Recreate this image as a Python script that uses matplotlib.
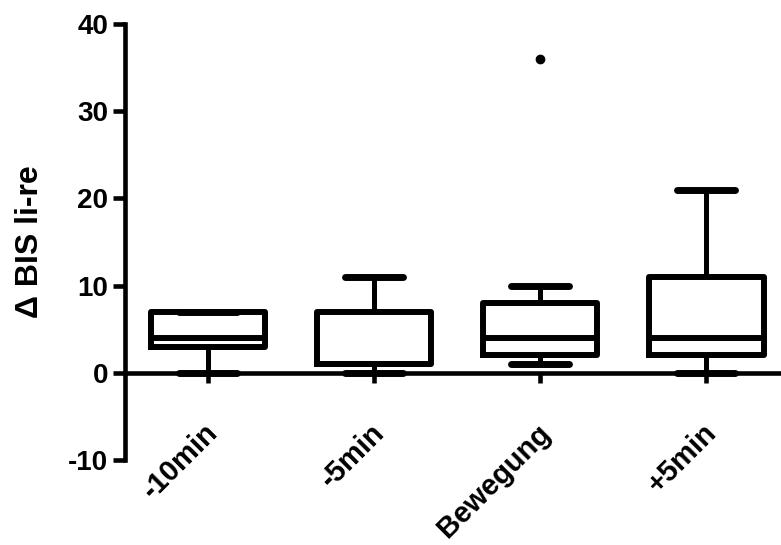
import numpy as np
import matplotlib.pyplot as plt
import matplotlib.transforms as mtransforms

plt.rcParams['font.family'] = ['Liberation Sans', 'DejaVu Sans']
plt.rcParams['font.weight'] = 'bold'
plt.rcParams['axes.unicode_minus'] = False

# data
categories = ['-10min', '-5min', 'Bewegung', '+5min']
whislo = [0, 0, 1, 0]
q1 = [3, 1, 2, 2]
med = [4, 1, 4, 4]
q3 = [7, 7, 8, 11]
whishi = [7, 11, 10, 21]
fliers = [[], [], [36], []]

stats = []
for i in range(len(categories)):
    stats.append(dict(label=categories[i], whislo=whislo[i], q1=q1[i], med=med[i],
                      q3=q3[i], whishi=whishi[i], fliers=fliers[i]))

fig = plt.figure(figsize=(7.81, 5.45), dpi=100)
ax = fig.add_axes([0.16, 0.156, 0.84, 0.80])

lw = 4.3
pos = np.arange(1, len(categories) + 1)
ax.bxp(stats, positions=pos, widths=0.69, capwidths=0.35,
       boxprops=dict(color='black', linewidth=lw, solid_joinstyle='round'),
       medianprops=dict(color='black', linewidth=lw),
       whiskerprops=dict(color='black', linewidth=3.6),
       capprops=dict(color='black', linewidth=lw + 0.7, solid_capstyle='round'),
       flierprops=dict(marker='o', markerfacecolor='black', markeredgecolor='black',
                       markersize=6),
       zorder=3)

ax.set_xlim(0.5, 4.45)
ax.set_ylim(-10, 40)
ax.set_yticks([-10, 0, 10, 20, 30, 40])

ax.spines['top'].set_visible(False)
ax.spines['right'].set_visible(False)
ax.spines['bottom'].set_position(('data', 0))
for s in ['left', 'bottom']:
    ax.spines[s].set_linewidth(3.3)
ax.spines['bottom'].set_zorder(2)

ax.tick_params(axis='y', direction='out', length=9, width=3.3, labelsize=20, pad=3)
ax.tick_params(axis='x', direction='out', length=7, width=3.3, labelsize=21, pad=26)
ax.set_xticks(pos)
ax.set_xticklabels(categories, rotation=45, ha='right', rotation_mode='anchor',
                   fontweight='bold')
offset = mtransforms.ScaledTranslation(-3 / 72, 0, fig.dpi_scale_trans)
for lab in ax.get_xticklabels():
    lab.set_transform(lab.get_transform() + offset)
for lab in ax.get_yticklabels():
    lab.set_fontweight('bold')

ax.set_ylabel('\u0394 BIS li-re', fontsize=23, fontweight='bold', labelpad=17)

fig.savefig('out.png', dpi=100)
